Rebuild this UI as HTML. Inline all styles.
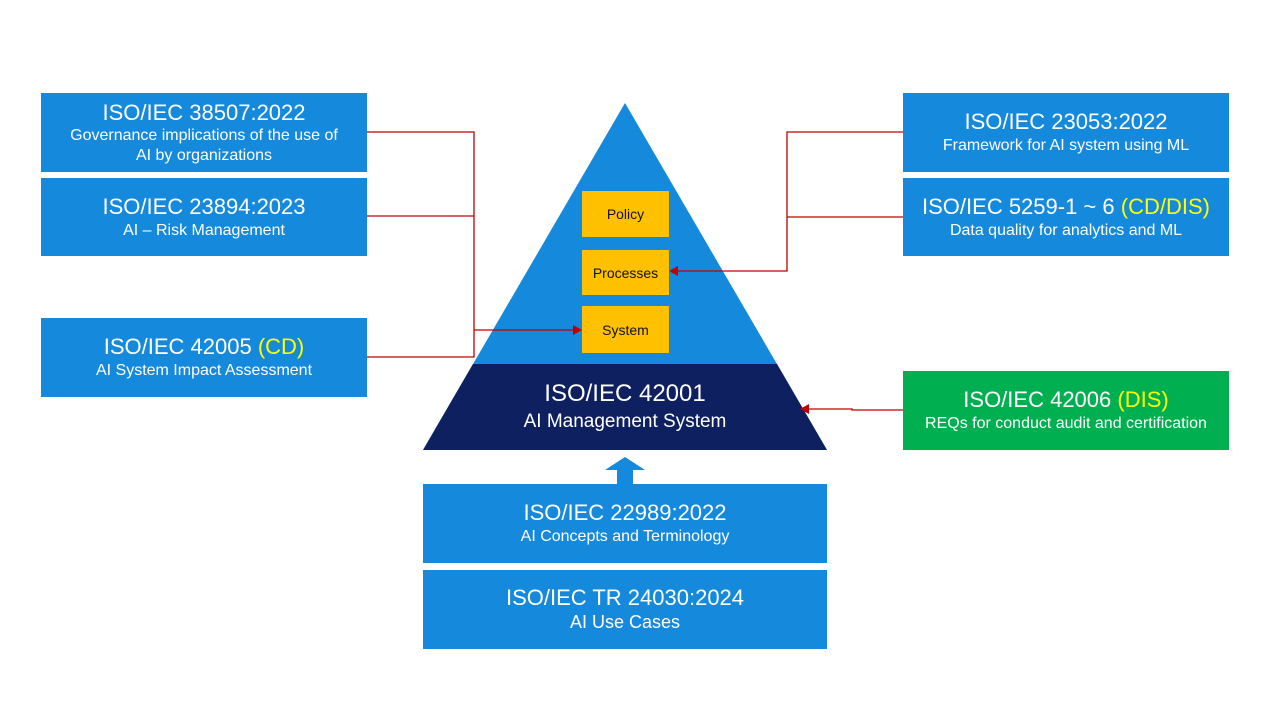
<!DOCTYPE html>
<html><head><meta charset="utf-8"><style>
body{margin:0;width:1280px;height:720px;background:#fff;position:relative;overflow:hidden;font-family:"Liberation Sans",sans-serif}
.b{position:absolute;background:#1589dc;color:#fff;text-align:center;box-sizing:border-box;display:flex;flex-direction:column;justify-content:center;line-height:1.22}
.t{font-size:22px}.s{font-size:16px}.y{color:#ffff00}
.o{position:absolute;background:#ffc000;color:#111;font-size:14px;display:flex;align-items:center;justify-content:center;width:87px;left:582px}
</style></head><body>
<svg width="1280" height="720" style="position:absolute;left:0;top:0">
<polygon points="625,103 827,450 423,450" fill="#1589dc"/>
<polygon points="473,364 777,364 827,450 423,450" fill="#0e2060"/>
<g stroke="#c00000" stroke-width="1.3" fill="none">
<polyline points="367,132 474,132 474,357 367,357"/>
<line x1="367" y1="216" x2="474" y2="216"/>
<line x1="474" y1="330" x2="574" y2="330"/>
<polyline points="903,132 787,132 787,271 677,271"/>
<line x1="787" y1="217" x2="903" y2="217"/>
<polyline points="903,410 852,410 852,409 808,409"/>
</g>
<g fill="#c00000">
<polygon points="582,330 573,325 573,335"/>
<polygon points="669,271 678,266 678,276"/>
<polygon points="800,409 809,404 809,414"/>
</g>
<polygon points="625,457 645,470 633,470 633,484 617,484 617,470 605,470" fill="#1589dc"/>
</svg>
<div class="o" style="top:191px;height:46px">Policy</div>
<div class="o" style="top:250px;height:45px">Processes</div>
<div class="o" style="top:306px;height:47px">System</div>
<div style="position:absolute;left:423px;width:404px;top:380px;text-align:center;color:#fff"><div style="font-size:24px">ISO/IEC 42001</div><div style="font-size:19px;margin-top:3px">AI Management System</div></div>
<div class="b" style="left:41px;top:93px;width:326px;height:79px"><div class="t">ISO/IEC 38507:2022</div><div class="s">Governance implications of the use of<br>AI by organizations</div></div>
<div class="b" style="left:41px;top:178px;width:326px;height:78px"><div class="t">ISO/IEC 23894:2023</div><div class="s">AI – Risk Management</div></div>
<div class="b" style="left:41px;top:318px;width:326px;height:79px"><div class="t">ISO/IEC 42005 <span class="y">(CD)</span></div><div class="s">AI System Impact Assessment</div></div>
<div class="b" style="left:903px;top:93px;width:326px;height:79px"><div class="t">ISO/IEC 23053:2022</div><div class="s">Framework for AI system using ML</div></div>
<div class="b" style="left:903px;top:178px;width:326px;height:78px"><div class="t">ISO/IEC 5259-1 ~ 6 <span class="y">(CD/DIS)</span></div><div class="s">Data quality for analytics and ML</div></div>
<div class="b" style="left:903px;top:371px;width:326px;height:79px;background:#00b050"><div class="t">ISO/IEC 42006 <span class="y">(DIS)</span></div><div class="s">REQs for conduct audit and certification</div></div>
<div class="b" style="left:423px;top:484px;width:404px;height:79px"><div class="t">ISO/IEC 22989:2022</div><div class="s">AI Concepts and Terminology</div></div>
<div class="b" style="left:423px;top:570px;width:404px;height:79px"><div class="t">ISO/IEC TR 24030:2024</div><div class="s" style="font-size:18px">AI Use Cases</div></div>
</body></html>
